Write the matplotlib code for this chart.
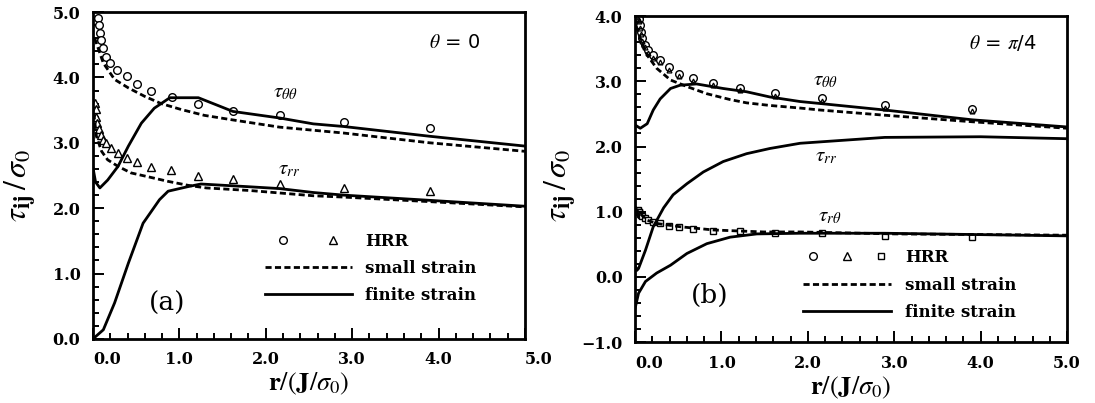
import numpy as np
import matplotlib.pyplot as plt
from matplotlib.lines import Line2D
from matplotlib.legend_handler import HandlerTuple
from matplotlib.ticker import MultipleLocator

plt.rcParams['mathtext.fontset'] = 'stix'
plt.rcParams['font.family'] = ['DejaVu Serif']

# ---- panel (a), theta = 0 ----
a_hrr_r_tt = [0.06, 0.07, 0.08, 0.09, 0.12, 0.15, 0.20, 0.28, 0.39, 0.51, 0.67, 0.91, 1.21, 1.62, 2.16, 2.91, 3.90]
a_hrr_tt = [4.91, 4.80, 4.68, 4.58, 4.45, 4.32, 4.22, 4.12, 4.02, 3.90, 3.80, 3.70, 3.60, 3.49, 3.43, 3.32, 3.23]
a_hrr_r_rr = [0.02, 0.03, 0.04, 0.05, 0.07, 0.09, 0.12, 0.15, 0.21, 0.29, 0.39, 0.51, 0.67, 0.90, 1.21, 1.62, 2.16, 2.91, 3.90]
a_hrr_rr = [3.61, 3.51, 3.40, 3.30, 3.21, 3.12, 3.05, 2.99, 2.92, 2.85, 2.77, 2.71, 2.63, 2.58, 2.50, 2.45, 2.37, 2.31, 2.26]

a_small_r_tt = [0.02, 0.12, 0.25, 0.41, 0.60, 0.79, 1.02, 1.29, 1.62, 2.16, 2.90, 3.90, 5.0]
a_small_tt = [4.60, 4.22, 3.97, 3.84, 3.71, 3.60, 3.51, 3.42, 3.35, 3.24, 3.15, 3.00, 2.87]
a_small_r_rr = [0.01, 0.04, 0.10, 0.17, 0.29, 0.44, 0.64, 0.87, 1.10, 1.31, 1.82, 2.55, 2.90, 3.90, 5.0]
a_small_rr = [3.45, 3.10, 2.87, 2.74, 2.64, 2.54, 2.48, 2.41, 2.35, 2.31, 2.27, 2.19, 2.17, 2.10, 2.02]

a_finite_r_tt = [0.0, 0.03, 0.08, 0.17, 0.29, 0.41, 0.56, 0.71, 0.89, 1.22, 1.43, 1.62, 1.89, 2.16, 2.55, 2.90, 3.90, 5.0]
a_finite_tt = [2.62, 2.40, 2.31, 2.43, 2.64, 2.95, 3.30, 3.53, 3.69, 3.69, 3.58, 3.48, 3.43, 3.38, 3.29, 3.25, 3.10, 2.95]
a_finite_r_rr = [0.0, 0.12, 0.25, 0.41, 0.58, 0.77, 0.87, 1.10, 1.25, 1.78, 2.16, 2.55, 2.90, 3.90, 5.0]
a_finite_rr = [0.0, 0.14, 0.55, 1.16, 1.77, 2.13, 2.26, 2.33, 2.37, 2.33, 2.30, 2.24, 2.20, 2.12, 2.03]

# ---- panel (b), theta = pi/4 ----
b_hrr_r = [0.03, 0.04, 0.05, 0.06, 0.07, 0.08, 0.12, 0.15, 0.21, 0.29, 0.39, 0.51, 0.67, 0.90, 1.21, 1.62, 2.16, 2.89, 3.90]
b_hrr_tt = [4.00, 3.98, 3.96, 3.86, 3.76, 3.66, 3.56, 3.48, 3.40, 3.33, 3.22, 3.12, 3.05, 2.98, 2.90, 2.82, 2.74, 2.63, 2.58]
b_hrr_rr = [3.96, 3.94, 3.92, 3.82, 3.72, 3.62, 3.52, 3.44, 3.36, 3.29, 3.18, 3.08, 3.01, 2.94, 2.86, 2.78, 2.70, 2.59, 2.54]
b_hrr_rt = [1.02, 1.00, 0.99, 0.97, 0.95, 0.93, 0.90, 0.87, 0.85, 0.82, 0.78, 0.76, 0.73, 0.71, 0.70, 0.68, 0.67, 0.63, 0.61]

b_small_r_tt = [0.01, 0.06, 0.14, 0.25, 0.41, 0.60, 0.83, 1.10, 1.29, 1.56, 1.91, 2.14, 2.89, 3.90, 5.0]
b_small_tt = [3.85, 3.66, 3.40, 3.20, 3.02, 2.92, 2.81, 2.72, 2.67, 2.63, 2.59, 2.56, 2.48, 2.38, 2.28]
b_small_r_rt = [0.0, 0.02, 0.14, 0.25, 0.52, 0.91, 1.49, 1.91, 3.0, 5.0]
b_small_rt = [1.08, 1.02, 0.87, 0.82, 0.77, 0.72, 0.69, 0.69, 0.66, 0.64]

b_finite_r_tt = [0.0, 0.06, 0.14, 0.21, 0.29, 0.41, 0.52, 0.71, 1.02, 1.29, 1.56, 1.91, 2.14, 2.89, 3.90, 5.0]
b_finite_tt = [2.33, 2.28, 2.35, 2.56, 2.73, 2.89, 2.94, 2.96, 2.89, 2.84, 2.76, 2.69, 2.66, 2.56, 2.41, 2.30]
b_finite_r_rr = [0.0, 0.02, 0.04, 0.12, 0.21, 0.33, 0.44, 0.60, 0.79, 1.02, 1.29, 1.56, 1.91, 2.89, 4.0, 5.0]
b_finite_rr = [0.18, 0.10, 0.13, 0.41, 0.77, 1.06, 1.26, 1.43, 1.61, 1.77, 1.89, 1.97, 2.05, 2.14, 2.15, 2.12]
b_finite_r_rt = [0.0, 0.04, 0.12, 0.25, 0.41, 0.60, 0.83, 1.10, 1.41, 1.91, 2.89, 5.0]
b_finite_rt = [-0.48, -0.25, -0.07, 0.06, 0.18, 0.36, 0.51, 0.61, 0.66, 0.67, 0.67, 0.63]

x_ticks = [0, 1, 2, 3, 4, 5]
x_labels = ['0.0', '1.0', '2.0', '3.0', '4.0', '5.0']
a_y_ticks = [0, 1, 2, 3, 4, 5]
a_y_labels = ['0.0', '1.0', '2.0', '3.0', '4.0', '5.0']
b_y_ticks = [-1, 0, 1, 2, 3, 4]
b_y_labels = ['\u22121.0', '0.0', '1.0', '2.0', '3.0', '4.0']

LW = 2.0
DASH = (0, (2.2, 1.2))
MK = dict(ls='none', mfc='white', mec='black', mew=1.0, ms=5.5)


def style_axes(ax, yticks, ylabels, ylim):
    ax.set_xlim(0, 5)
    ax.set_ylim(*ylim)
    ax.set_xticks(x_ticks)
    ax.set_xticklabels(x_labels, fontweight='bold', fontsize=11.5)
    ax.set_yticks(yticks)
    ax.set_yticklabels(ylabels, fontweight='bold', fontsize=11.5)
    ax.xaxis.set_minor_locator(MultipleLocator(0.2))
    ax.yaxis.set_minor_locator(MultipleLocator(0.2))
    ax.tick_params(which='both', direction='in', top=False, right=False, width=1.4)
    ax.tick_params(which='major', length=8, pad=9)
    ax.tick_params(which='minor', length=4)
    for s in ax.spines.values():
        s.set_linewidth(2.0)
    ax.set_xlabel(r'$\mathbf{r}/(\mathbf{J}/\sigma_0)$', fontsize=19, labelpad=2)
    ax.set_ylabel(r'$\tau_{\mathbf{ij}}\,/\,\sigma_{0}$', fontsize=23)


fig = plt.figure(figsize=(10.95, 4.03), dpi=100)
ax1 = fig.add_axes([0.0849, 0.159, 0.3945, 0.811])
ax2 = fig.add_axes([0.580, 0.151, 0.3945, 0.809])

# panel (a)
ax1.plot(a_hrr_r_tt, a_hrr_tt, marker='o', **MK)
ax1.plot(a_hrr_r_rr, a_hrr_rr, marker='^', **MK)
ax1.plot(a_small_r_tt, a_small_tt, color='black', lw=LW, ls=DASH)
ax1.plot(a_small_r_rr, a_small_rr, color='black', lw=LW, ls=DASH)
ax1.plot(a_finite_r_tt, a_finite_tt, color='black', lw=LW)
ax1.plot(a_finite_r_rr, a_finite_rr, color='black', lw=LW)
style_axes(ax1, a_y_ticks, a_y_labels, (0, 5))
ax1.yaxis.set_label_coords(-0.125, 0.47)
ax1.get_xticklabels()[-1].set_ha('left')
ax1.get_xticklabels()[0].set_ha('left')

ax1.text(4.18, 4.53, r'$\theta$ = 0', fontsize=14, family='DejaVu Sans', ha='center', va='center')
ax1.text(2.23, 3.77, r'$\tau_{\theta\theta}$', fontsize=15, ha='center', va='center')
ax1.text(2.27, 2.59, r'$\tau_{rr}$', fontsize=15, ha='center', va='center')
ax1.text(0.86, 0.55, '(a)', fontsize=19, ha='center', va='center')

h_c = Line2D([], [], marker='o', **MK)
h_t = Line2D([], [], marker='^', **MK)
h_s = Line2D([], [], color='black', lw=LW, ls=DASH)
h_f = Line2D([], [], color='black', lw=LW)
leg1 = ax1.legend([(h_c, h_t), h_s, h_f], ['HRR', 'small strain', 'finite strain'],
                  handler_map={tuple: HandlerTuple(ndivide=None, pad=0.8)},
                  loc='upper left', bbox_to_anchor=(0.398, 0.325), frameon=False,
                  borderpad=0, borderaxespad=0, handlelength=5.2, handletextpad=0.8,
                  labelspacing=0.6, prop={'weight': 'bold', 'size': 12})

# panel (b)
ax2.plot(b_hrr_r, b_hrr_tt, marker='o', **MK)
ax2.plot(b_hrr_r, b_hrr_rr, marker='^', ls='none', mfc='none', mec='black', mew=0.9, ms=3.5)
ax2.plot(b_hrr_r, b_hrr_rt, marker='s', ls='none', mfc='white', mec='black', mew=1.0, ms=4.5)
ax2.plot(b_small_r_tt, b_small_tt, color='black', lw=LW, ls=DASH)
ax2.plot(b_small_r_rt, b_small_rt, color='black', lw=LW, ls=DASH)
ax2.plot(b_finite_r_tt, b_finite_tt, color='black', lw=LW)
ax2.plot(b_finite_r_rr, b_finite_rr, color='black', lw=LW)
ax2.plot(b_finite_r_rt, b_finite_rt, color='black', lw=LW)
style_axes(ax2, b_y_ticks, b_y_labels, (-1, 4))
ax2.yaxis.set_label_coords(-0.13, 0.48)
ax2.get_xticklabels()[0].set_ha('left')

ax2.text(4.26, 3.59, r'$\theta$ = $\pi$/4', fontsize=14, family='DejaVu Sans', ha='center', va='center')
ax2.text(2.2, 3.02, r'$\tau_{\theta\theta}$', fontsize=15, ha='center', va='center')
ax2.text(2.21, 1.84, r'$\tau_{rr}$', fontsize=15, ha='center', va='center')
ax2.text(2.25, 0.92, r'$\tau_{r\theta}$', fontsize=15, ha='center', va='center')
ax2.text(0.86, -0.28, '(b)', fontsize=19, ha='center', va='center')

h_sq = Line2D([], [], marker='s', ls='none', mfc='white', mec='black', mew=1.0, ms=5)
leg2 = ax2.legend([(h_c, h_t, h_sq), h_s, h_f], ['HRR', 'small strain', 'finite strain'],
                  handler_map={tuple: HandlerTuple(ndivide=None, pad=0.8)},
                  loc='upper left', bbox_to_anchor=(0.389, 0.285), frameon=False,
                  borderpad=0, borderaxespad=0, handlelength=5.3, handletextpad=0.8,
                  labelspacing=0.62, prop={'weight': 'bold', 'size': 12})

fig.savefig('out.png', dpi=100)
